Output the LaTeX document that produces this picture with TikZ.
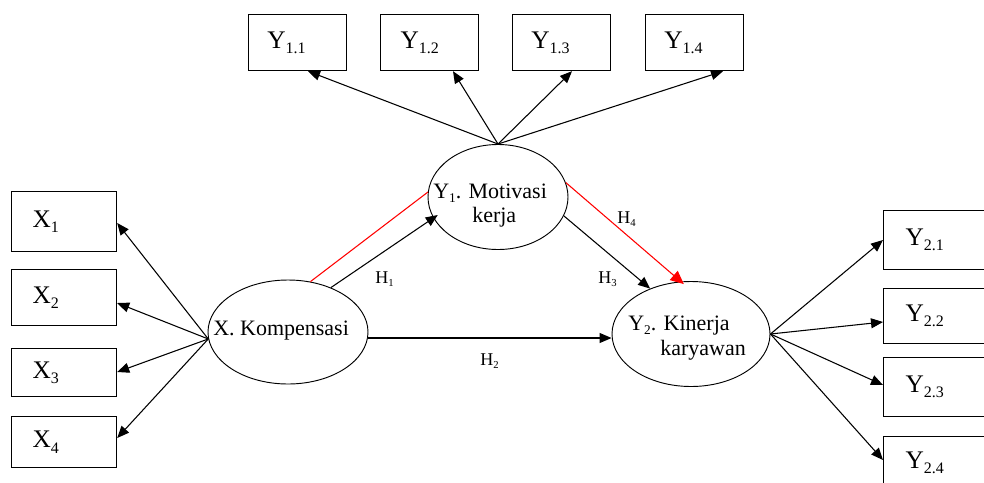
\documentclass[tikz,border=0pt]{standalone}
\usepackage{fontspec}
\setmainfont{Liberation Serif}
\usetikzlibrary{arrows.meta,shapes.geometric}
\newcommand{\btxt}[3]{\hbox to #1{\hspace{#2}#3\hfil}}
\newcommand{\bsubx}[1]{\raisebox{-4pt}{\fontsize{12}{12}\selectfont #1}}
\newcommand{\esubx}[1]{\raisebox{-3pt}{\fontsize{10}{10}\selectfont #1}}
\newcommand{\hsubx}[1]{\raisebox{-2.5pt}{\fontsize{8}{8}\selectfont #1}}
\begin{document}
\begin{tikzpicture}[x=0.75pt,y=-0.75pt,
 box/.style={draw, line width=0.9pt, anchor=north west, inner sep=0pt, font=\fontsize{19}{19}\selectfont},
 lat/.style={draw, ellipse, line width=0.7pt, inner sep=0pt},
 etxt/.style={anchor=base west, inner sep=0pt, font=\fontsize{16.5}{16.5}\selectfont},
 htxt/.style={anchor=base west, inner sep=0pt, font=\fontsize{13.5}{13.5}\selectfont},
 arr/.style={line width=0.8pt, -{Triangle[length=9pt,width=7.5pt]}},
 rarr/.style={draw=red, line width=0.8pt, -{Triangle[length=10pt,width=9pt]}},
 rline/.style={draw=red, line width=0.8pt}
]
\useasboundingbox (0,0) rectangle (984,482);
\clip (0,0) rectangle (984,482);

% indicator boxes X
\node[box, minimum width=78.75pt, minimum height=45pt]    (x1) at (11,191) {\btxt{78.75pt}{15.75pt}{X\bsubx{1}}};
\node[box, minimum width=78.75pt, minimum height=42pt]    (x2) at (11,269) {\btxt{78.75pt}{15.75pt}{X\bsubx{2}}};
\node[box, minimum width=78.75pt, minimum height=36pt]    (x3) at (11,348) {\btxt{78.75pt}{15.75pt}{X\bsubx{3}}};
\node[box, minimum width=78.75pt, minimum height=38.25pt] (x4) at (11,416) {\btxt{78.75pt}{15.75pt}{X\bsubx{4}}};

% indicator boxes Y1
\node[box, minimum width=73.5pt, minimum height=42pt] (y11) at (248,14) {\btxt{73.5pt}{14pt}{Y\bsubx{1.1}}};
\node[box, minimum width=73.5pt, minimum height=42pt] (y12) at (380,14) {\btxt{73.5pt}{15pt}{Y\bsubx{1.2}}};
\node[box, minimum width=73.5pt, minimum height=42pt] (y13) at (512,14) {\btxt{73.5pt}{14pt}{Y\bsubx{1.3}}};
\node[box, minimum width=73.5pt, minimum height=42pt] (y14) at (645,14) {\btxt{73.5pt}{14pt}{Y\bsubx{1.4}}};

% indicator boxes Y2
\node[box, minimum width=87.75pt, minimum height=44.25pt] (y21) at (883,210) {\btxt{87.75pt}{16.5pt}{Y\bsubx{2.1}}};
\node[box, minimum width=87.75pt, minimum height=41.25pt] (y22) at (883,288) {\btxt{87.75pt}{16.5pt}{Y\bsubx{2.2}}};
\node[box, minimum width=87.75pt, minimum height=44.25pt] (y23) at (883,357) {\btxt{87.75pt}{16.5pt}{Y\bsubx{2.3}}};
\node[box, minimum width=87.75pt, minimum height=52pt, text depth=17pt] (y24) at (883,436) {\btxt{87.75pt}{16.5pt}{Y\bsubx{2.4}}};

% latent variables
\node[lat, minimum width=120pt,  minimum height=78pt]    (xk) at (288,332) {};
\node[lat, minimum width=105pt,  minimum height=78.75pt] (y1) at (498,197) {};
\node[lat, minimum width=118.5pt, minimum height=78.75pt] (y2) at (691,334) {};

\node[etxt] (xkt)  at (213,335) {X. Kompensasi};
\node[etxt] (y1t1) at (433,198) {Y\esubx{1}. Motivasi};
\node[etxt] (y1t2) at (472,222) {kerja};
\node[etxt] (y2t1) at (628,330) {Y\esubx{2}. Kinerja};
\node[etxt] (y2t2) at (660,355) {karyawan};

% hypothesis labels
\node[htxt] (h1) at (375,283) {H\hsubx{1}};
\node[htxt] (h2) at (480,365) {H\hsubx{2}};
\node[htxt] (h3) at (598,283) {H\hsubx{3}};
\node[htxt] (h4) at (617,223) {H\hsubx{4}};

% X indicators
\draw[arr] (xk.185) -- (x1.east |- 0,223);
\draw[arr] (xk.185) -- (x2.east |- 0,303);
\draw[arr] (xk.185) -- (x3.east |- 0,372);
\draw[arr] (xk.185) -- (x4.east |- 0,438);

% Y1 indicators
\draw[arr] (y1.north) -- (308,0 |- y11.south);
\draw[arr] (y1.north) -- (453,0 |- y12.south);
\draw[arr] (y1.north) -- (572,0 |- y13.south);
\draw[arr] (y1.north) -- (723,0 |- y14.south);

% Y2 indicators
\draw[arr] (y2.east) -- (y21.west |- 0,240);
\draw[arr] (y2.east) -- (y22.west |- 0,322);
\draw[arr] (y2.east) -- (y23.west |- 0,385);
\draw[arr] (y2.east) -- (y24.west |- 0,460);

% structural paths
\draw[rline] (xk.66) -- (y1.176);
\draw[arr, shorten >=-4pt] (xk.46) -- (y1.198);
\draw[arr] (xk.east |- 0,338) -- (y2.west |- 0,338);
\draw[arr] (y1.344) -- (y2.132);
\draw[rarr, shorten >=-3pt] (y1.12) -- (y2.101);
\end{tikzpicture}
\end{document}
